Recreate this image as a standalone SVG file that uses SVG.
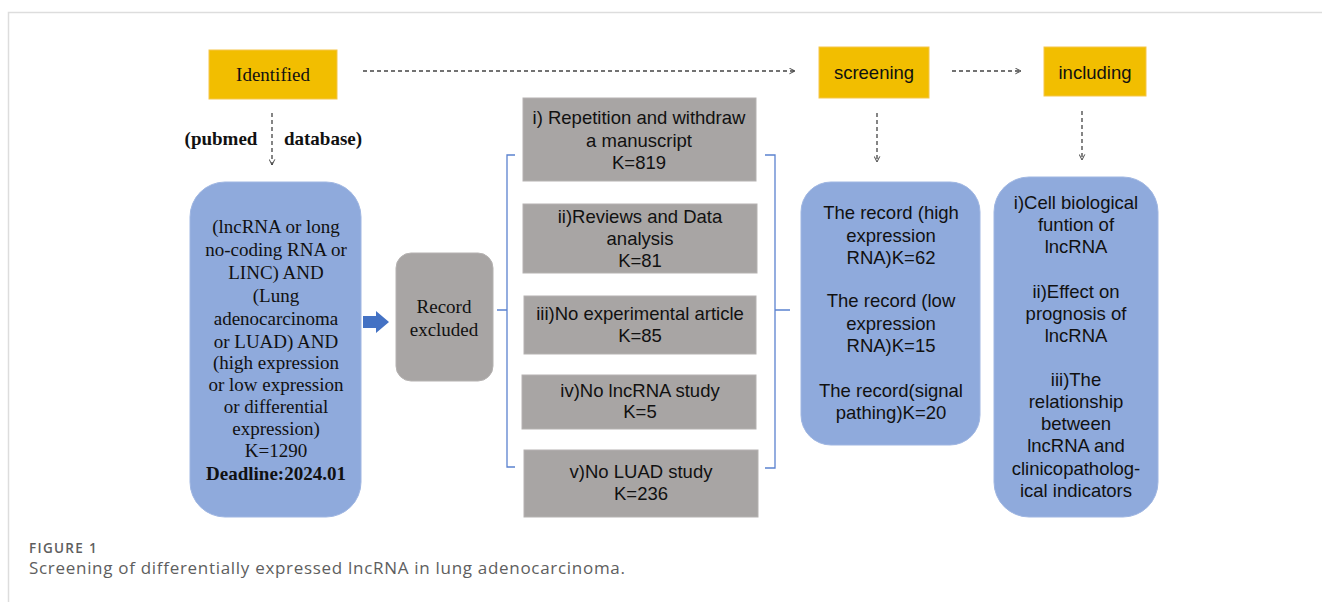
<svg xmlns="http://www.w3.org/2000/svg" width="1322" height="602" viewBox="0 0 1322 602">
<style>
.step{fill:#F2BE00;stroke:#F5C64A;stroke-width:1}
.blue{fill:#8FAADC;stroke:#9FB6E2;stroke-width:1}
.gray{fill:#A8A5A4;stroke:#B5B2B1;stroke-width:1}
.serif{font-family:"Liberation Serif","Times New Roman",serif;font-size:19px;fill:#111;text-anchor:middle}
.sans{font-family:"Liberation Sans",Arial,sans-serif;font-size:18.5px;fill:#111;text-anchor:middle}
.dash{stroke:#444;stroke-width:1.3;stroke-dasharray:4 3;fill:none}
.brk{stroke:#5B82CF;stroke-width:1.3;fill:none}
.cap{font-family:"Open Sans","Liberation Sans",sans-serif;fill:#5E5E5E}
</style>
<defs>
<marker id="open" viewBox="0 0 10 10" refX="9" refY="5" markerWidth="7" markerHeight="7" orient="auto" markerUnits="userSpaceOnUse">
<path d="M1,1 L9,5 L1,9" fill="none" stroke="#444" stroke-width="1.4"/>
</marker>
</defs>
<rect width="1322" height="602" fill="#fff"/>
<path d="M8.5,602 V12.5 H1322" fill="none" stroke="#DDDDDD" stroke-width="1.5"/>

<g id="identified"><rect class="step" x="209" y="50" width="128" height="49"/><text class="serif" x="273" y="81">Identified</text></g>
<g id="screening"><rect class="step" x="819" y="47" width="110" height="51"/><text class="sans" x="874" y="79" font-size="19">screening</text></g>
<g id="including"><rect class="step" x="1044" y="47" width="102" height="49"/><text class="sans" x="1095" y="79" font-size="19">including</text></g>

<g id="query">
<rect class="blue" x="190" y="182" width="171" height="335" rx="35"/>
<text class="serif"><tspan x="276" y="233">(lncRNA or long</tspan><tspan x="276" y="256">no-coding RNA or</tspan><tspan x="276" y="279">LINC) AND</tspan><tspan x="276" y="302">(Lung</tspan><tspan x="276" y="325">adenocarcinoma</tspan><tspan x="276" y="348">or LUAD) AND</tspan><tspan x="276" y="369">(high expression</tspan><tspan x="276" y="391">or low expression</tspan><tspan x="276" y="413">or differential</tspan><tspan x="276" y="435">expression)</tspan><tspan x="276" y="457">K=1290</tspan><tspan x="276" y="480" font-weight="bold">Deadline:2024.01</tspan></text>
</g>

<g id="excluded">
<rect class="gray" x="396" y="253" width="97" height="128" rx="15"/>
<text class="serif"><tspan x="444" y="313">Record</tspan><tspan x="444" y="336">excluded</tspan></text>
</g>

<g id="ex1"><rect class="gray" x="523" y="98" width="233" height="83"/><text class="sans"><tspan x="639" y="124">i) Repetition and withdraw</tspan><tspan x="639" y="147">a manuscript</tspan><tspan x="639" y="169">K=819</tspan></text></g>
<g id="ex2"><rect class="gray" x="523" y="204" width="234" height="69"/><text class="sans"><tspan x="640" y="223">ii)Reviews and Data</tspan><tspan x="640" y="245">analysis</tspan><tspan x="640" y="267">K=81</tspan></text></g>
<g id="ex3"><rect class="gray" x="524" y="296" width="232" height="58"/><text class="sans"><tspan x="640" y="320">iii)No experimental article</tspan><tspan x="640" y="342">K=85</tspan></text></g>
<g id="ex4"><rect class="gray" x="522" y="375" width="234" height="54"/><text class="sans"><tspan x="640" y="397">iv)No lncRNA study</tspan><tspan x="640" y="418">K=5</tspan></text></g>
<g id="ex5"><rect class="gray" x="524" y="450" width="234" height="67"/><text class="sans"><tspan x="641" y="478">v)No LUAD study</tspan><tspan x="641" y="500">K=236</tspan></text></g>

<g id="records">
<rect class="blue" x="801" y="182" width="179" height="263" rx="30"/>
<text class="sans"><tspan x="891" y="219">The record (high</tspan><tspan x="891" y="242">expression</tspan><tspan x="891" y="264">RNA)K=62</tspan><tspan x="891" y="307">The record (low</tspan><tspan x="891" y="330">expression</tspan><tspan x="891" y="352">RNA)K=15</tspan><tspan x="891" y="397">The record(signal</tspan><tspan x="891" y="419">pathing)K=20</tspan></text>
</g>

<g id="results">
<rect class="blue" x="994" y="177" width="164" height="340" rx="35"/>
<text class="sans"><tspan x="1076" y="209">i)Cell biological</tspan><tspan x="1076" y="231">funtion of</tspan><tspan x="1076" y="253">lncRNA</tspan><tspan x="1076" y="298">ii)Effect on</tspan><tspan x="1076" y="320">prognosis of</tspan><tspan x="1076" y="342">lncRNA</tspan><tspan x="1076" y="386">iii)The</tspan><tspan x="1076" y="408">relationship</tspan><tspan x="1076" y="430">between</tspan><tspan x="1076" y="452">lncRNA and</tspan><tspan x="1076" y="475">clinicopatholog-</tspan><tspan x="1076" y="497">ical indicators</tspan></text>
</g>

<g id="connectors">
<line class="dash" x1="363" y1="71" x2="795" y2="71" marker-end="url(#open)"/>
<line class="dash" x1="952" y1="71" x2="1021" y2="71" marker-end="url(#open)"/>
<line class="dash" x1="272" y1="113" x2="272" y2="165" marker-end="url(#open)"/>
<line class="dash" x1="877" y1="113" x2="877" y2="162" marker-end="url(#open)"/>
<line class="dash" x1="1082" y1="111" x2="1082" y2="160" marker-end="url(#open)"/>
<path d="M363,316 H376 V311 L389,322 L376,333 V328 H363 Z" fill="#4472C4"/>
<path class="brk" d="M515,155 H507 V467 H515 M507,310 H497"/>
<path class="brk" d="M765,155 H775 V468 H765 M775,310 H790"/>
</g>
<g id="labels">
<text class="serif" x="221" y="145" font-weight="bold">(pubmed</text>
<text class="serif" x="323" y="145" font-weight="bold">database)</text>
</g>
<g id="caption">
<text class="cap" x="29" y="553" font-size="13.5" letter-spacing="1.3" font-weight="600">FIGURE 1</text>
<text class="cap" x="29" y="574" font-size="17" letter-spacing="0.7">Screening of differentially expressed lncRNA in lung adenocarcinoma.</text>
</g>
</svg>
